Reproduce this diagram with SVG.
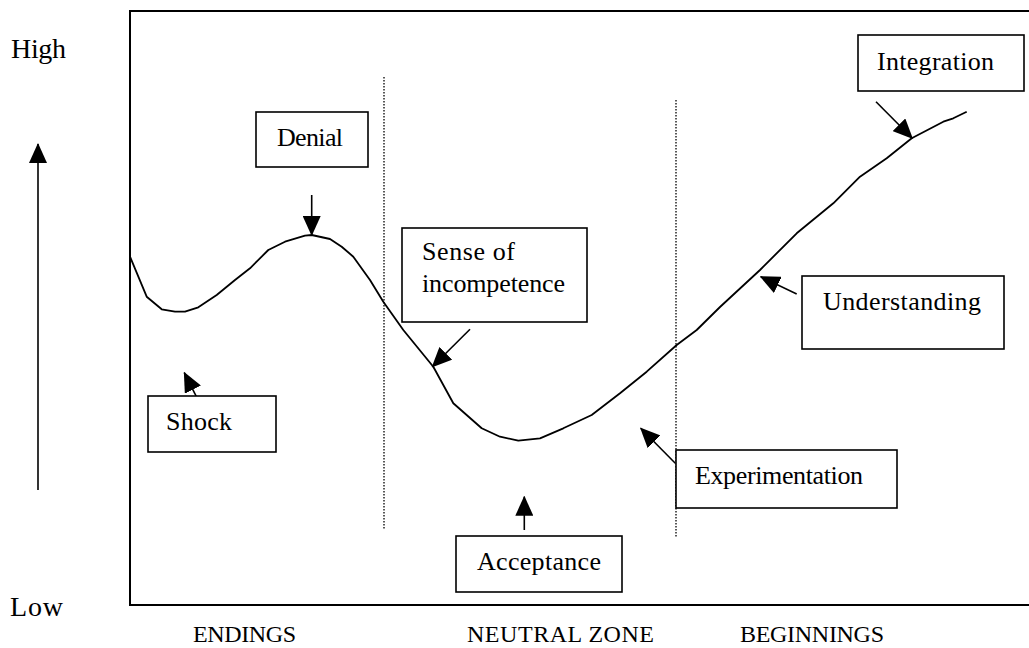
<svg xmlns="http://www.w3.org/2000/svg" width="1029" height="648" viewBox="0 0 1029 648">
<style>
.box{fill:#fff;stroke:#000;stroke-width:1.6}
.t{font-family:"Liberation Serif","Times New Roman",serif;font-size:26px;fill:#000}
.ax{font-family:"Liberation Serif","Times New Roman",serif;font-size:28px;fill:#000}
.ph{font-family:"Liberation Serif","Times New Roman",serif;font-size:24px;fill:#000}
.arr{stroke:#000;stroke-width:1.6;fill:none;marker-end:url(#ah)}
.dot{stroke:#000;stroke-width:1.3;stroke-dasharray:1.5 1.5;fill:none}
</style>
<defs>
<marker id="ah" markerUnits="userSpaceOnUse" markerWidth="20" markerHeight="18" viewBox="0 0 20 18" refX="19" refY="9" orient="auto">
<path d="M0,0 L20,9 L0,18 z" fill="#000"/>
</marker>
</defs>
<rect width="1029" height="648" fill="#fff"/>
<g id="frame">
<rect x="130" y="11" width="905" height="594" fill="none" stroke="#000" stroke-width="2"/>
<line class="dot" x1="384" y1="77" x2="384" y2="530"/>
<line class="dot" x1="676" y1="100" x2="676" y2="538"/>
<polyline fill="none" stroke="#000" stroke-width="1.8" stroke-linejoin="round" points="130,256.7 146.7,296.7 161.7,309.3 175,311.7 185,311.7 198.3,307.3 216.7,295 235,280 250,268.3 268.3,250 285,241.7 305,235.7 311.7,235 330,239 341.7,246.7 353.3,256.7 370,280 383.3,301.7 403.3,330 433.3,366.7 453.3,403.3 481.7,428.3 500,436.7 518.3,440.7 540,438.3 563.3,428.3 591.7,415 620,393.3 646.7,371.7 676.7,345 696.7,330 720,307 760,270 796.7,233.3 833.3,203.3 860,176.7 886.7,158.3 911.7,138.3 943.3,121.7 953.3,118.3 966.7,111.7"/>
</g>
<g id="axis">
<text class="ax" x="11" y="58" textLength="55">High</text>
<text class="ax" x="10" y="616" textLength="53">Low</text>
<text class="ph" x="193" y="642" textLength="103">ENDINGS</text>
<text class="ph" x="467" y="642" textLength="187">NEUTRAL ZONE</text>
<text class="ph" x="740" y="642" textLength="144">BEGINNINGS</text>
</g>
<g id="connectors">
<line class="arr" x1="38" y1="490" x2="38" y2="144"/>
<line class="arr" x1="311.7" y1="195" x2="311.7" y2="235"/>
<line class="arr" x1="202.3" y1="408.3" x2="184.3" y2="372.7"/>
<line class="arr" x1="470" y1="329.3" x2="432.3" y2="366.7"/>
<line class="arr" x1="524.3" y1="530" x2="524.3" y2="496.7"/>
<line class="arr" x1="675.3" y1="463.3" x2="640.7" y2="428.3"/>
<line class="arr" x1="796.7" y1="294" x2="760.7" y2="276.7"/>
<line class="arr" x1="876" y1="101.7" x2="912.3" y2="138.3"/>
</g>
<g id="denial">
<rect class="box" x="256" y="112" width="112" height="55"/>
<text class="t" x="277" y="146" textLength="66">Denial</text>
</g>
<g id="shock">
<rect class="box" x="148" y="396" width="128" height="56"/>
<text class="t" x="166" y="430" textLength="66">Shock</text>
</g>
<g id="incompetence">
<rect class="box" x="402" y="228" width="185" height="94"/>
<text class="t" x="422" y="260" textLength="93">Sense of</text>
<text class="t" x="422" y="292" textLength="143">incompetence</text>
</g>
<g id="acceptance">
<rect class="box" x="456" y="536" width="166" height="56"/>
<text class="t" x="477" y="570" textLength="124">Acceptance</text>
</g>
<g id="experimentation">
<rect class="box" x="676" y="450" width="221" height="58"/>
<text class="t" x="695" y="484" textLength="168">Experimentation</text>
</g>
<g id="understanding">
<rect class="box" x="802" y="276" width="202" height="73"/>
<text class="t" x="823" y="310" textLength="158">Understanding</text>
</g>
<g id="integration">
<rect class="box" x="858" y="35" width="166" height="56"/>
<text class="t" x="877" y="70" textLength="117">Integration</text>
</g>
</svg>
